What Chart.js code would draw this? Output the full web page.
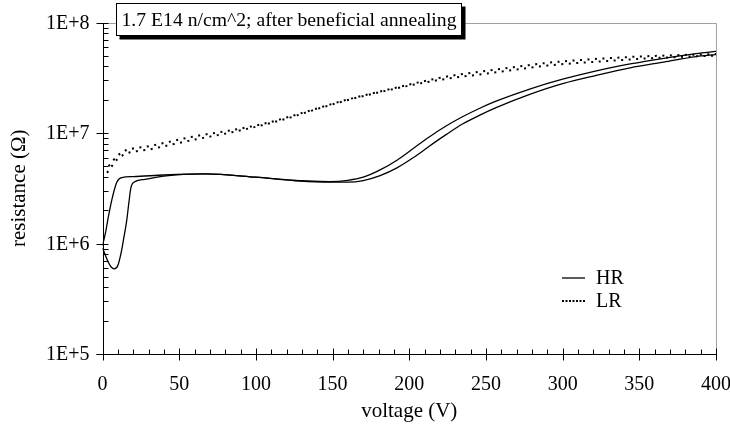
<!DOCTYPE html>
<html><head><meta charset="utf-8">
<script src="https://cdn.jsdelivr.net/npm/chart.js@4.4.0/dist/chart.umd.min.js"></script>
<style>html,body{margin:0;padding:0;background:#fff;}canvas{display:block;}</style>
</head><body>
<canvas id="c" width="730" height="432"></canvas>
<script>
// ---- data ----
const hrA_V = [0, 2, 3.8, 6, 8, 9.3, 12.5, 20, 40, 67, 100, 125, 148, 160, 170, 181, 192, 203, 213, 224, 235, 246, 257, 279, 300, 322, 344, 366, 387, 400];
const hrA_R = [9.55e5, 1.259e6, 1.738e6, 2.455e6, 3.162e6, 3.589e6, 3.954e6, 4.027e6, 4.169e6, 4.266e6, 3.981e6, 3.715e6, 3.631e6, 3.733e6, 3.981e6, 4.634e6, 5.675e6, 7.311e6, 9.204e6, 1.156e7, 1.409e7, 1.675e7, 1.950e7, 2.512e7, 3.069e7, 3.656e7, 4.217e7, 4.742e7, 5.224e7, 5.470e7];
const hrB_V = [0, 2, 3.8, 5.5, 7.7, 10, 12.5, 14, 15.8, 17.2, 18.6, 21.2, 27.7, 40, 67, 100, 125, 148, 160, 170, 181, 192, 203, 213, 224, 235, 246, 257, 279, 300, 322, 344, 366, 387, 400];
const hrB_R = [9.12e5, 7.762e5, 6.761e5, 6.166e5, 5.888e5, 6.310e5, 8.710e5, 1.148e6, 1.622e6, 2.344e6, 3.236e6, 3.631e6, 3.802e6, 4.074e6, 4.266e6, 3.981e6, 3.715e6, 3.589e6, 3.589e6, 3.715e6, 4.121e6, 4.842e6, 6.026e6, 7.586e6, 9.661e6, 1.211e7, 1.452e7, 1.706e7, 2.249e7, 2.799e7, 3.327e7, 3.890e7, 4.385e7, 4.920e7, 5.129e7];
const lr1_V = [4, 9.5, 14.7, 20, 30, 40, 60, 82, 104, 120, 137, 159, 181, 202, 224, 246, 268, 290, 311, 333, 355, 376, 400];
const lr1_R = [5.012e6, 6.166e6, 6.918e6, 7.244e6, 7.586e6, 8.128e6, 9.333e6, 1.047e7, 1.202e7, 1.380e7, 1.622e7, 1.995e7, 2.371e7, 2.786e7, 3.236e7, 3.589e7, 3.936e7, 4.315e7, 4.571e7, 4.786e7, 4.955e7, 5.070e7, 5.188e7];
const lr2_V = [3, 9.5, 14.7, 20, 30, 40, 60, 82, 104, 120, 137, 159, 181, 202, 224, 246, 268, 290, 311, 333, 355, 376, 400];
const lr2_R = [4.365e6, 5.754e6, 6.457e6, 6.761e6, 7.079e6, 7.586e6, 8.710e6, 1.0e7, 1.175e7, 1.349e7, 1.603e7, 1.972e7, 2.344e7, 2.723e7, 3.090e7, 3.388e7, 3.715e7, 4.074e7, 4.315e7, 4.519e7, 4.732e7, 4.875e7, 5.012e7];

const xTicks = [0, 50, 100, 150, 200, 250, 300, 350, 400];
const xMinorStep = 10;
const yTicks = [1e5, 1e6, 1e7, 1e8];
const yTickLabels = ['1E+5', '1E+6', '1E+7', '1E+8'];
const titleText = '1.7 E14 n/cm^2; after beneficial annealing';
const xTitle = 'voltage (V)';
const yTitle = 'resistance (\u03A9)';
const legendLabels = ['HR', 'LR'];

const pts = (v, r) => v.map((x, i) => ({x: x, y: r[i]}));
const FONT = '"Liberation Serif", "Times New Roman", serif';
const solid = {borderColor: '#000', borderWidth: 1.3, pointRadius: 0, fill: false, cubicInterpolationMode: 'monotone'};
const dotted = {borderColor: '#000', borderWidth: 2, borderDash: [2, 5.5], borderCapStyle: 'butt', pointRadius: 0, fill: false, cubicInterpolationMode: 'monotone'};

const deco = {
  id: 'deco',
  beforeDatasetsDraw(chart) {
    const {ctx, chartArea: a} = chart;
    ctx.save();
    ctx.strokeStyle = '#a0a0a0'; ctx.lineWidth = 1;
    ctx.beginPath();
    ctx.moveTo(a.left, Math.round(a.top) + 0.5);
    ctx.lineTo(Math.round(a.right) + 0.5, Math.round(a.top) + 0.5);
    ctx.lineTo(Math.round(a.right) + 0.5, a.bottom);
    ctx.stroke();
    ctx.restore();
  },
  afterDatasetsDraw(chart) {
    const {ctx, chartArea: a, scales: {x, y}} = chart;
    ctx.save();
    ctx.strokeStyle = '#000'; ctx.fillStyle = '#000'; ctx.lineWidth = 1;
    const ax = Math.round(x.getPixelForValue(0)) + 0.5;
    const ay = Math.round(y.getPixelForValue(1e5)) + 0.5;
    // axes lines
    ctx.beginPath();
    ctx.moveTo(ax, Math.round(a.top)); ctx.lineTo(ax, ay);
    ctx.moveTo(ax - 7, ay); ctx.lineTo(Math.round(a.right) + 1, ay);
    ctx.stroke();
    // y ticks
    ctx.beginPath();
    yTicks.forEach(v => {
      const py = Math.round(y.getPixelForValue(v)) + 0.5;
      ctx.moveTo(ax - 7, py); ctx.lineTo(ax + 5, py);
    });
    for (let d = 1e5; d < 1e8; d *= 10) {
      for (let m = 2; m <= 9; m++) {
        const py = Math.round(y.getPixelForValue(d * m)) + 0.5;
        ctx.moveTo(ax, py); ctx.lineTo(ax + 5, py);
      }
    }
    // x ticks
    xTicks.forEach(v => {
      const px = Math.round(x.getPixelForValue(v)) + 0.5;
      ctx.moveTo(px, ay - 6); ctx.lineTo(px, ay + 6);
    });
    for (let v = 0; v <= 400; v += xMinorStep) {
      if (v % 50 === 0) continue;
      const px = Math.round(x.getPixelForValue(v)) + 0.5;
      ctx.moveTo(px, ay - 5); ctx.lineTo(px, ay);
    }
    ctx.stroke();
    // tick labels
    ctx.font = '20px ' + FONT;
    ctx.textAlign = 'right'; ctx.textBaseline = 'middle';
    yTicks.forEach((v, i) => ctx.fillText(yTickLabels[i], ax - 14, y.getPixelForValue(v) + 1));
    ctx.textAlign = 'center'; ctx.textBaseline = 'middle';
    xTicks.forEach(v => ctx.fillText(String(v), x.getPixelForValue(v), ay + 30));
    // axis titles
    ctx.font = '21px ' + FONT;
    ctx.fillText(xTitle, (a.left + a.right) / 2, ay + 57);
    ctx.save();
    ctx.translate(19, (a.top + a.bottom) / 2);
    ctx.rotate(-Math.PI / 2);
    ctx.fillText(yTitle, 0, 0);
    ctx.restore();
    // legend
    const lx0 = 562, lx1 = 585, ly = [278, 301];
    ctx.font = '20px ' + FONT; ctx.textAlign = 'left';
    ctx.lineWidth = 1.3; ctx.setLineDash([]);
    ctx.beginPath(); ctx.moveTo(lx0, ly[0]); ctx.lineTo(lx1, ly[0]); ctx.stroke();
    ctx.fillText(legendLabels[0], 596, ly[0] + 1);
    ctx.lineWidth = 2; ctx.setLineDash([2, 1.5]);
    ctx.beginPath(); ctx.moveTo(lx0, ly[1]); ctx.lineTo(lx1, ly[1]); ctx.stroke();
    ctx.setLineDash([]);
    ctx.fillText(legendLabels[1], 596, ly[1] + 1);
    // title box
    const bx = 116.5, by = 3.5, bw = 345, bh = 32;
    ctx.fillStyle = '#000';
    ctx.fillRect(bx + 3, by + 3, bw + 1, bh + 1);
    ctx.fillStyle = '#fff';
    ctx.fillRect(bx, by, bw, bh);
    ctx.lineWidth = 1; ctx.strokeStyle = '#000';
    ctx.strokeRect(bx, by, bw, bh);
    ctx.fillStyle = '#000';
    ctx.font = '19.7px ' + FONT; ctx.textAlign = 'center'; ctx.textBaseline = 'middle';
    ctx.fillText(titleText, bx + bw / 2, by + bh / 2 + 1);
    ctx.restore();
  }
};

new Chart(document.getElementById('c'), {
  type: 'line',
  data: {
    datasets: [
      Object.assign({label: 'HR', data: pts(hrA_V, hrA_R)}, solid),
      Object.assign({label: 'HR', data: pts(hrB_V, hrB_R)}, solid),
      Object.assign({label: 'LR', data: pts(lr1_V, lr1_R)}, dotted),
      Object.assign({label: 'LR', data: pts(lr2_V, lr2_R)}, dotted)
    ]
  },
  options: {
    responsive: false, animation: false, devicePixelRatio: 1,
    layout: {padding: {left: 102.5, right: 14, top: 22.5, bottom: 78}},
    plugins: {legend: {display: false}, tooltip: {enabled: false}},
    scales: {
      x: {type: 'linear', min: 0, max: 400, display: false},
      y: {type: 'logarithmic', min: 1e5, max: 1e8, display: false}
    }
  },
  plugins: [deco]
});
</script>
</body></html>
